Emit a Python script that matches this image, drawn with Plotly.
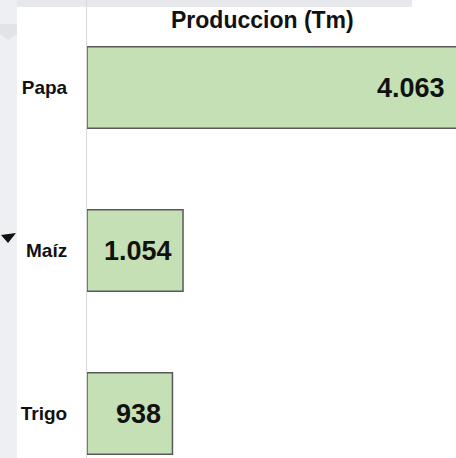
import plotly.graph_objects as go

categories = ["Papa", "Maíz", "Trigo"]
values = [4063, 1054, 938]
title_text = "Produccion (Tm)"

W, H = 456, 458
L = 87
PW = W - L
X_MAX = 4050

def px(x):
    return (x - L) / PW

def py(y):
    return 1 - y / H

fig = go.Figure()
fig.add_trace(go.Bar(
    y=categories, x=values, orientation="h",
    marker=dict(color="#c5e0b4", line=dict(color="#595959", width=1.5)),
    cliponaxis=True,
    width=0.5,
    hoverinfo="x+y",
))

annotations = [dict(text=f"<b>{title_text}</b>", xref="paper", yref="paper",
                    x=px(262), y=py(20), xanchor="center", yanchor="middle",
                    showarrow=False, font=dict(size=23, color="#111111"))]
for c, v in zip(categories, values):
    annotations.append(dict(
        x=min(v, X_MAX), y=c, xref="x", yref="y",
        text="<b>" + f"{v:,}".replace(",", ".") + "</b>",
        xanchor="right", yanchor="middle", xshift=-9, showarrow=False,
        font=dict(size=27, color="#111111", family="Liberation Sans, Arial"),
    ))

shapes = [
    dict(type="rect", xref="paper", yref="paper", x0=px(0), x1=px(412), y0=py(7), y1=py(0),
         fillcolor="#e7e8ec", line=dict(width=0), layer="below"),
    dict(type="rect", xref="paper", yref="paper", x0=px(0), x1=px(17), y0=py(H), y1=py(0),
         fillcolor="#eeeff2", line=dict(width=0), layer="below"),
    dict(type="path", xref="paper", yref="paper",
         path=f"M {px(0)},{py(24)} L {px(17)},{py(24)} L {px(17)},{py(34)} L {px(8)},{py(40)} L {px(0)},{py(34)} Z",
         fillcolor="#e2e3e8", line=dict(width=0), layer="below"),
    dict(type="path", xref="paper", yref="paper",
         path=f"M {px(1)},{py(235)} L {px(16)},{py(233)} L {px(8)},{py(243)} Z",
         fillcolor="#111111", line=dict(width=0)),
]

fig.update_layout(
    width=W, height=H,
    margin=dict(l=L, r=0, t=0, b=0),
    paper_bgcolor="white", plot_bgcolor="rgba(0,0,0,0)",
    showlegend=False,
    font=dict(family="Liberation Sans, Arial", color="#111111"),
    shapes=shapes,
    annotations=annotations,
    xaxis=dict(range=[0, X_MAX], visible=False, fixedrange=True),
    yaxis=dict(autorange=False, range=[2.273, -0.537], showline=True, linecolor="#d9d9d9",
               linewidth=1, showgrid=False, zeroline=False, ticks="",
               ticklabelstandoff=15,
               tickfont=dict(size=19, color="#111111", family="Liberation Sans, Arial", weight="bold")),
)

fig.write_html("out.html", config={"displayModeBar": False},
               post_script="document.body.style.margin='0';document.body.style.overflow='hidden';")
